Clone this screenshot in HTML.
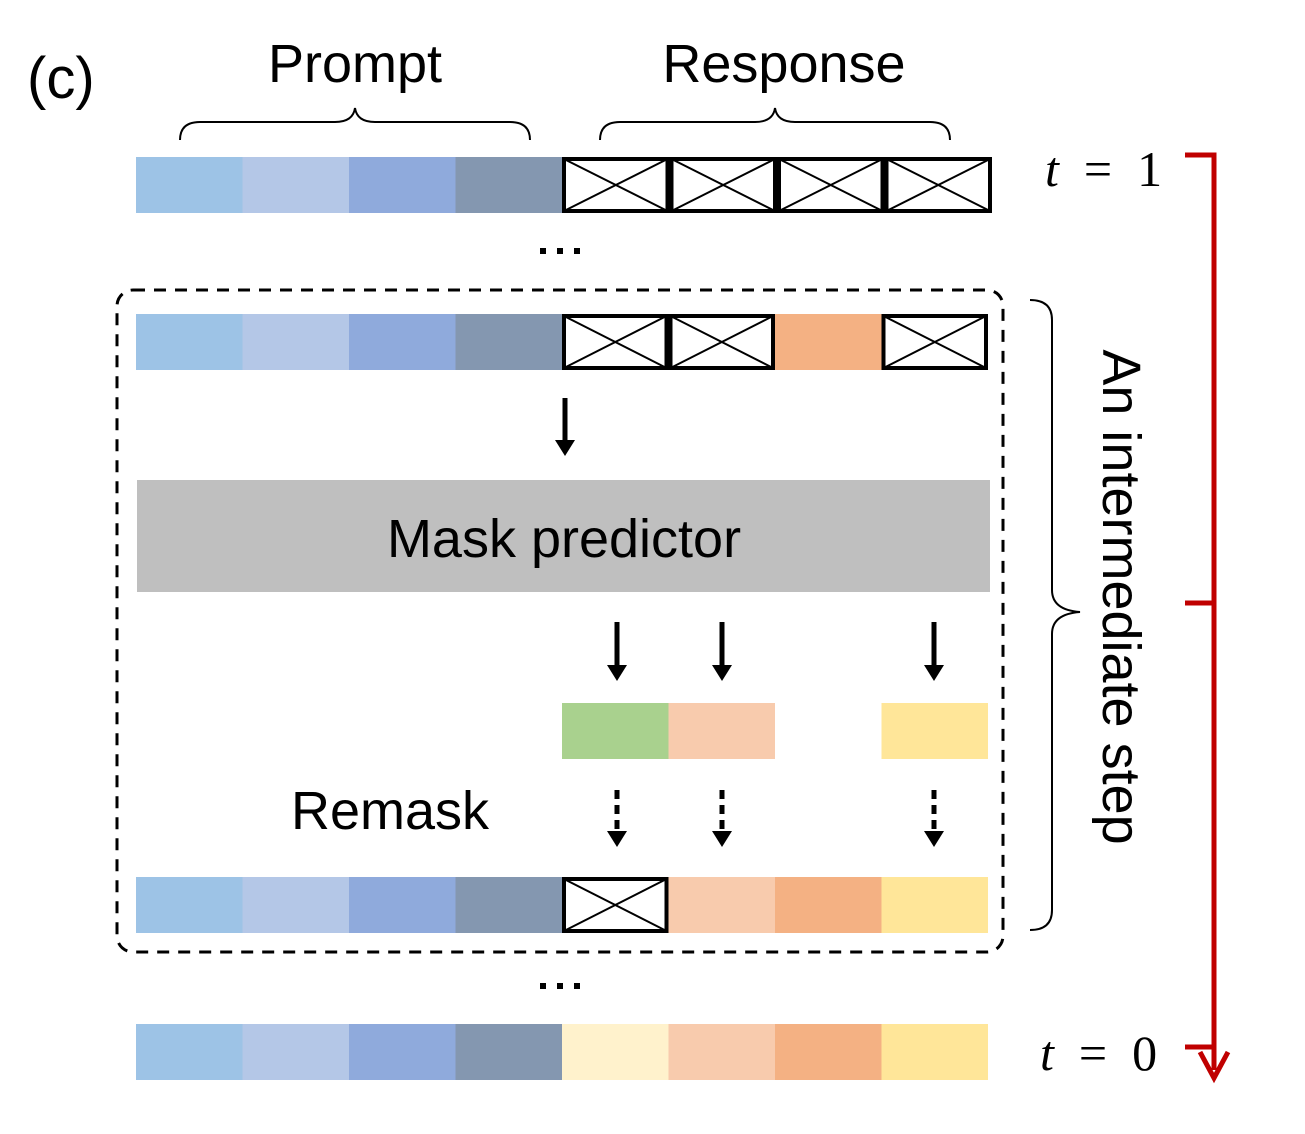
<!DOCTYPE html>
<html><head><meta charset="utf-8"><style>
html,body{margin:0;padding:0;background:#fff;}
svg{display:block;font-family:"Liberation Sans",sans-serif;}
</style></head><body>
<svg width="1305" height="1134" viewBox="0 0 1305 1134">
<text x="27" y="98" font-size="58">(c)</text>
<text x="355" y="82" font-size="54" text-anchor="middle">Prompt</text>
<text x="784" y="82" font-size="54" text-anchor="middle">Response</text>
<path d="M180,140 Q180,122 200,122 L335,122 Q353,122 355,108 Q357,122 375,122 L510,122 Q530,122 530,140" fill="none" stroke="#000" stroke-width="2"/>
<path d="M600,140 Q600,122 620,122 L755,122 Q773,122 775,108 Q777,122 795,122 L930,122 Q950,122 950,140" fill="none" stroke="#000" stroke-width="2"/>
<g id="rows"></g>
<g fill="#000"><rect x="540" y="248" width="6" height="6"/><rect x="557" y="248" width="6" height="6"/><rect x="574" y="248" width="6" height="6"/></g>
<g fill="#000"><rect x="540" y="983" width="6" height="6"/><rect x="557" y="983" width="6" height="6"/><rect x="574" y="983" width="6" height="6"/></g>
<rect x="117" y="290" width="886" height="662" rx="16" fill="none" stroke="#000" stroke-width="3" stroke-dasharray="12,9"/>
<rect x="137" y="480" width="853" height="112" fill="#bfbfbf"/>
<text x="564" y="557" font-size="54" text-anchor="middle">Mask predictor</text>
<text x="390" y="829" font-size="54" text-anchor="middle">Remask</text>
<g id="arrows" fill="#000" stroke="#000"></g>
<path d="M1030,300 Q1052,300 1052,320 L1052,590 Q1052,610 1080,612 Q1052,614 1052,634 L1052,910 Q1052,930 1030,930" fill="none" stroke="#000" stroke-width="2"/>
<text transform="translate(1103,597) rotate(90)" font-size="54" text-anchor="middle">An intermediate step</text>
<text x="1045" y="186" font-size="50" font-family="Liberation Serif,serif" xml:space="preserve"><tspan font-style="italic">t</tspan>  =  1</text>
<text x="1040" y="1070" font-size="50" font-family="Liberation Serif,serif" xml:space="preserve"><tspan font-style="italic">t</tspan>  =  0</text>
<g stroke="#c00000" stroke-width="5" fill="none">
<path d="M1185,155 L1214,155 L1214,1070"/>
<path d="M1185,603 L1214,603"/>
<path d="M1185,1047 L1214,1047"/>
<path d="M1200,1052 L1214,1078 L1228,1052"/>
</g>
</svg>
<script>
const NS="http://www.w3.org/2000/svg";
const P=["#9dc3e6","#b4c7e7","#8faadc","#8497b0"];
const rows=[
 {y:157,cells:["M","M","M","M"]},
 {y:314,cells:["M","M","#f4b183","M"]},
 {y:703,cells:["#a9d18e","#f8cbad",null,"#ffe699"],noPrompt:true},
 {y:877,cells:["M","#f8cbad","#f4b183","#ffe699"]},
 {y:1024,cells:["#fff2cc","#f8cbad","#f4b183","#ffe699"]}
];
const g=document.getElementById('rows');
function rect(x,y,w,h,f,s){const r=document.createElementNS(NS,'rect');r.setAttribute('x',x);r.setAttribute('y',y);r.setAttribute('width',w);r.setAttribute('height',h);r.setAttribute('fill',f);if(s){r.setAttribute('stroke','#000');r.setAttribute('stroke-width',4);}g.appendChild(r);return r;}
rows.forEach((row,ri)=>{
 const w=106.5;
 if(!row.noPrompt) P.forEach((c,i)=>{const r=rect(136+i*w,row.y,w+0.5,56,c);

});
 const cw=ri===0?107.5:106.5;
 row.cells.forEach((c,i)=>{if(!c)return;const x=562+i*cw;
  if(c==="M"){const r=rect(x+2,row.y+2,cw-4,52,"#fff",true);


   const p=document.createElementNS(NS,'path');p.setAttribute('d',`M${x+2},${row.y+2}L${x+cw-2},${row.y+54}M${x+cw-2},${row.y+2}L${x+2},${row.y+54}`);p.setAttribute('stroke','#000');p.setAttribute('stroke-width',2);g.appendChild(p);}
  else{const r=rect(x,row.y,cw,56,c);

}
 });
});
const a=document.getElementById('arrows');
function arrow(x,y1,y2,dashed){const l=document.createElementNS(NS,'line');l.setAttribute('x1',x);l.setAttribute('x2',x);l.setAttribute('y1',y1);l.setAttribute('y2',y2-14);l.setAttribute('stroke-width',5);if(dashed)l.setAttribute('stroke-dasharray','9,6');a.appendChild(l);
 const p=document.createElementNS(NS,'path');p.setAttribute('d',`M${x-10},${y2-16}L${x+10},${y2-16}L${x},${y2}Z`);p.setAttribute('stroke','none');a.appendChild(p);
 
 }
arrow(565,398,456,false);
[617,722,934].forEach(x=>arrow(x,622,681,false));
[617,722,934].forEach(x=>arrow(x,790,847,true));
</script>
</body></html>
